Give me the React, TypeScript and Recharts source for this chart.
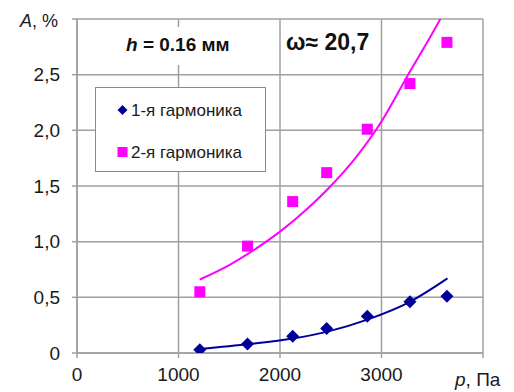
import React from "react";
import {
  ComposedChart,
  XAxis,
  YAxis,
  CartesianGrid,
  Line,
  Scatter,
  Legend,
} from "recharts";

// Measured points
const pressure = [1210, 1680, 2125, 2460, 2860, 3280, 3645];
const harmonic1 = [0.03, 0.08, 0.15, 0.22, 0.33, 0.46, 0.51];
const harmonic2 = [0.55, 0.96, 1.36, 1.62, 2.01, 2.42, 2.79];

// Trend curves
const trend1P = [1210, 1700, 2125, 2460, 2860, 3280, 3650];
const trend1A = [0.035, 0.08, 0.13, 0.19, 0.3, 0.46, 0.67];
const trend2P = [1210, 1500, 1800, 2000, 2250, 2500, 2750, 3000, 3250, 3500, 3580];
const trend2A = [0.66, 0.79, 0.96, 1.09, 1.28, 1.5, 1.76, 2.08, 2.48, 2.87, 3.0];

const xTicks = [0, 1000, 2000, 3000, 4000];
const yTicks = [0, 0.5, 1, 1.5, 2, 2.5, 3];

const seriesNames = ["1-я гармоника", "2-я гармоника"];
const BLUE = "#000099";
const PINK = "#ff00ff";
const GRID = "#a0a0a0";
const FONT = "'Liberation Sans', Arial, sans-serif";

const points1 = pressure.map((p, i) => ({ p, a: harmonic1[i] }));
const points2 = pressure.map((p, i) => ({ p, a: harmonic2[i] }));
const trend1 = trend1P.map((p, i) => ({ p, a: trend1A[i] }));
const trend2 = trend2P.map((p, i) => ({ p, a: trend2A[i] }));

const Diamond = (props: any) => {
  const { cx, cy } = props;
  if (cx == null || cy == null) return null;
  const r = 6.5;
  return (
    <polygon
      points={`${cx},${cy - r} ${cx + r},${cy} ${cx},${cy + r} ${cx - r},${cy}`}
      fill={BLUE}
    />
  );
};

const Square = (props: any) => {
  const { cx, cy } = props;
  if (cx == null || cy == null) return null;
  const s = 11;
  return <rect x={cx - s / 2} y={cy - s / 2} width={s} height={s} fill={PINK} />;
};

const LegendBox = () => (
  <div
    style={{
      position: "absolute",
      left: 95,
      top: 87,
      width: 171,
      height: 85,
      boxSizing: "border-box",
      border: "1.5px solid #8a8a8a",
      background: "#fff",
      fontFamily: FONT,
      color: "#1a1a1a",
    }}
  >
    <svg width={171} height={85} style={{ position: "absolute", left: 0, top: 0 }}>
      <polygon points="26.5,17 31.5,22 26.5,27 21.5,22" fill={BLUE} />
      <rect x={21.5} y={59} width={10} height={10} fill={PINK} />
      <text x={35} y={22} dy="0.36em" fontFamily={FONT} fontSize={17} fill="#1a1a1a">
        {seriesNames[0]}
      </text>
      <text x={35} y={64} dy="0.36em" fontFamily={FONT} fontSize={17} fill="#1a1a1a">
        {seriesNames[1]}
      </text>
    </svg>
  </div>
);

const fmtY = (v: number) => (v === 3 ? "" : v === 0 ? "0" : v.toFixed(1).replace(".", ","));
const fmtX = (v: number) => (v === 4000 ? "" : String(v));

export default function App() {
  return (
    <div
      style={{
        position: "absolute",
        left: 0,
        top: 0,
        width: 514,
        height: 392,
        background: "#fff",
        fontFamily: FONT,
      }}
    >
      <ComposedChart
        width={514}
        height={392}
        margin={{ top: 19, right: 31, bottom: 9, left: 7 }}
      >
        <CartesianGrid stroke={GRID} strokeWidth={1.5} />
        <XAxis
          type="number"
          dataKey="p"
          domain={[0, 4000]}
          ticks={xTicks}
          tickFormatter={fmtX}
          height={30}
          tickSize={5}
          tickMargin={10}
          stroke={GRID}
          strokeWidth={1.5}
          tick={{ fill: "#1a1a1a", fontSize: 19, fontFamily: FONT }}
          allowDataOverflow
        />
        <YAxis
          type="number"
          dataKey="a"
          domain={[0, 3]}
          ticks={yTicks}
          tickFormatter={fmtY}
          width={70}
          tickSize={5}
          tickMargin={12}
          stroke={GRID}
          strokeWidth={1.5}
          tick={{ fill: "#1a1a1a", fontSize: 19, fontFamily: FONT }}
          allowDataOverflow
        />
        <Legend content={() => null} />
        <Line
          data={trend2}
          dataKey="a"
          type="monotone"
          stroke={PINK}
          strokeWidth={2}
          dot={false}
          activeDot={false}
          isAnimationActive={false}
          name="trend2"
          legendType="none"
        />
        <Line
          data={trend1}
          dataKey="a"
          type="monotone"
          stroke={BLUE}
          strokeWidth={2}
          dot={false}
          activeDot={false}
          isAnimationActive={false}
          name="trend1"
          legendType="none"
        />
        <Scatter
          data={points2}
          dataKey="a"
          name={seriesNames[1]}
          shape={Square}
          isAnimationActive={false}
        />
        <Scatter
          data={points1}
          dataKey="a"
          name={seriesNames[0]}
          shape={Diamond}
          isAnimationActive={false}
        />
      </ComposedChart>
      <LegendBox />
      <svg
        width={514}
        height={392}
        style={{ position: "absolute", left: 0, top: 0, pointerEvents: "none" }}
      >
        <rect x={118} y={27} width={124} height={38} fill="#fff" />
        <text x={126} y={51} fontFamily={FONT} fontSize={19} fontWeight="bold" fill="#111">
          <tspan fontStyle="italic">h</tspan> = 0.16 мм
        </text>
        <rect x={281} y={28} width={99} height={37} fill="#fff" />
        <text x={286} y={50} fontFamily={FONT} fontSize={23} fontWeight="bold" fill="#111">
          ω≈ 20,7
        </text>
        <text x={20} y={27} fontFamily={FONT} fontSize={18} fill="#1a1a1a">
          <tspan fontStyle="italic">A</tspan>, %
        </text>
        <text x={455} y={386} fontFamily={FONT} fontSize={19} fill="#1a1a1a">
          <tspan fontStyle="italic">p</tspan>, Па
        </text>
      </svg>
    </div>
  );
}
